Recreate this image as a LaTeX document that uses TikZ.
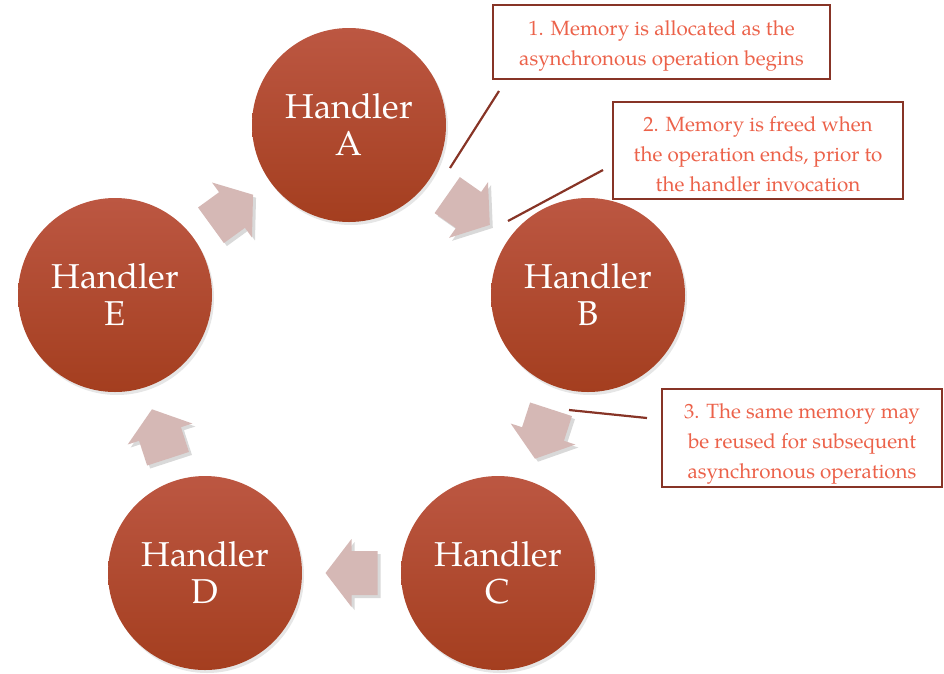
\documentclass[tikz,border=0pt]{standalone}
\usepackage{fontspec}
\setmainfont{TeX Gyre Pagella}
\usetikzlibrary{calc,shadows}

\definecolor{handlertop}{RGB}{188,87,66}
\definecolor{handlerbot}{RGB}{164,62,31}
\definecolor{cyclepink}{RGB}{213,184,181}
\definecolor{calloutline}{RGB}{135,52,38}
\definecolor{callouttext}{RGB}{236,98,74}

\tikzset{
  handler/.style={circle, minimum size=194pt, inner sep=0pt,
    top color=handlertop, bottom color=handlerbot, text=white, align=center,
    font=\fontsize{34.5}{37}\selectfont,
    drop shadow={shadow xshift=2pt, shadow yshift=-3pt, opacity=0.2}},
  callout/.style={draw=calloutline, line width=2.5pt, fill=white, inner sep=0pt},
  callouttext/.style={text=callouttext, align=center, inner sep=0pt,
    font=\fontsize{20.6}{30}\selectfont},
  leader/.style={draw=calloutline, line width=2.2pt},
  cyclearrow/.style={fill=cyclepink,
    drop shadow={shadow xshift=3pt, shadow yshift=-3pt, opacity=0.3}}
}

\begin{document}
\begin{tikzpicture}[x=1pt,y=-1pt]
        \useasboundingbox (0,0) rectangle (944,673);
        % handlers round the cycle
        \node [handler] (A) at (349,125) {Handler\\A};
        \node [handler] (B) at (588,295) {Handler\\B};
        \node [handler] (C) at (498,573) {Handler\\C};
        \node [handler] (D) at (205,573) {Handler\\D};
        \node [handler] (E) at (115,295) {Handler\\E};
        % block arrows between handlers
        \foreach \from/\to/\ang in {A/B/-35, B/C/-108, C/D/180, D/E/108, E/A/36}
          \fill [cyclearrow, shift={($(\from)!0.5!(\to)$)}, rotate=\ang]
            (-26,-22) -- (0,-22) -- (0,-34) -- (26,0) -- (0,34) -- (0,22) -- (-26,22) -- cycle;
        % callouts
        \node [callout, minimum width=337pt, minimum height=74pt] (note1) at (661.5,42) {};
        \node [callouttext] at ([yshift=-4pt]note1.center)
          {1. Memory is allocated as the\\asynchronous operation begins};
        \node [callout, minimum width=290pt, minimum height=97pt] (note2) at (758,150.5) {};
        \node [callouttext] at ([yshift=-4pt]note2.center)
          {2. Memory is freed when\\the operation ends, prior to\\the handler invocation};
        \node [callout, minimum width=280pt, minimum height=98pt] (note3) at (802,438) {};
        \node [callouttext] at ([yshift=-6pt]note3.center)
          {3. The same memory may\\be reused for subsequent\\asynchronous operations};
        % leader lines
        \coordinate (l1a) at (499,91);
        \coordinate (l1b) at (450,168);
        \coordinate (l2a) at (603,170);
        \coordinate (l2b) at (508,221);
        \coordinate (l3a) at (647,418);
        \coordinate (l3b) at (569,410);
        \draw [leader] (l1a) -- (l1b);
        \draw [leader] (l2a) -- (l2b);
        \draw [leader] (l3a) -- (l3b);
\end{tikzpicture}
\end{document}
